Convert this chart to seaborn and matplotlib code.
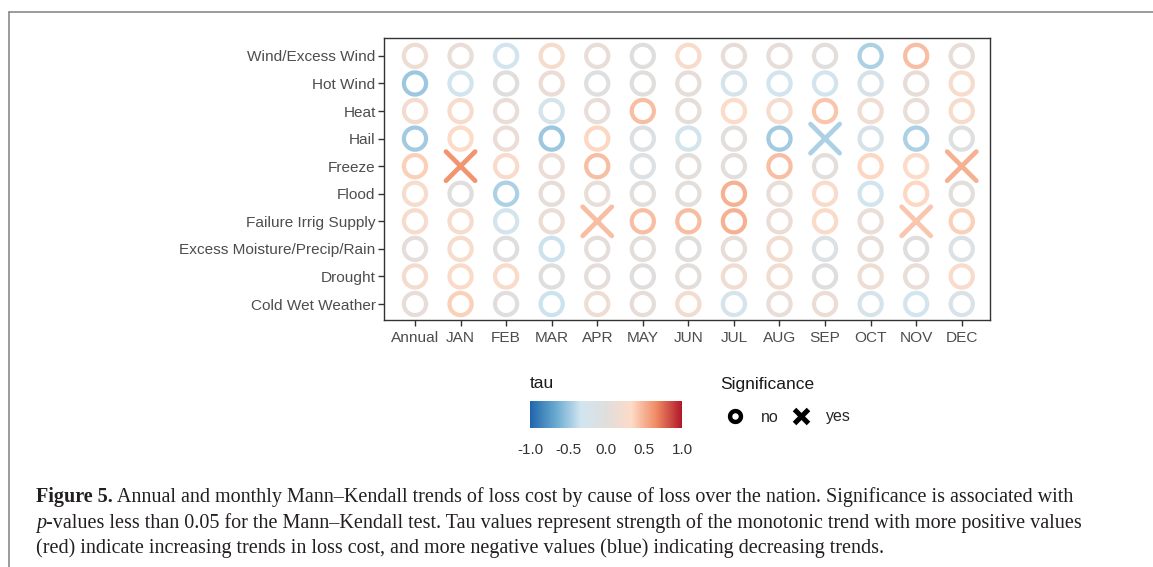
import numpy as np
import pandas as pd
import matplotlib
matplotlib.use("Agg")
import matplotlib.pyplot as plt
import seaborn as sns
from matplotlib.path import Path
from matplotlib.colors import LinearSegmentedColormap, Normalize
from matplotlib.lines import Line2D
import matplotlib.cm as cm

# ---------------- data ----------------
months = ["Annual", "JAN", "FEB", "MAR", "APR", "MAY", "JUN",
          "JUL", "AUG", "SEP", "OCT", "NOV", "DEC"]
causes = ["Wind/Excess Wind", "Hot Wind", "Heat", "Hail", "Freeze", "Flood",
          "Failure Irrig Supply", "Excess Moisture/Precip/Rain", "Drought",
          "Cold Wet Weather"]

tau_wind      = [0.15, 0.10, -0.30, 0.25, 0.10, 0.00, 0.28, 0.08, 0.08, 0.02, -0.45, 0.45, 0.08]
tau_hot_wind  = [-0.50, -0.30, 0.00, 0.12, -0.05, 0.00, 0.08, -0.22, -0.30, -0.30, -0.20, 0.08, 0.25]
tau_heat      = [0.22, 0.28, 0.10, -0.25, 0.10, 0.45, 0.08, 0.32, 0.25, 0.42, 0.18, 0.10, 0.25]
tau_hail      = [-0.48, 0.32, 0.12, -0.50, 0.35, -0.08, -0.28, 0.02, -0.48, -0.45, -0.20, -0.45, -0.05]
tau_freeze    = [0.38, 0.62, 0.28, 0.12, 0.45, -0.12, 0.05, 0.05, 0.45, 0.03, 0.35, 0.32, 0.50]
tau_flood     = [0.25, 0.00, -0.45, 0.08, 0.10, 0.02, 0.05, 0.50, 0.10, 0.28, -0.30, 0.35, 0.03]
tau_irrig     = [0.25, 0.25, -0.28, 0.12, 0.45, 0.45, 0.46, 0.50, 0.12, 0.30, 0.10, 0.42, 0.38]
tau_moisture  = [0.06, 0.25, 0.00, -0.35, 0.06, 0.05, 0.00, 0.08, 0.20, -0.12, 0.08, 0.00, -0.12]
tau_drought   = [0.22, 0.30, 0.28, 0.00, 0.06, 0.00, 0.05, 0.18, 0.20, 0.00, 0.15, 0.10, 0.28]
tau_cold_wet  = [0.08, 0.38, 0.00, -0.35, 0.15, 0.08, 0.22, -0.25, 0.10, 0.12, -0.22, -0.30, -0.18]

significant = [("Freeze", "JAN"), ("Freeze", "DEC"), ("Hail", "SEP"),
               ("Failure Irrig Supply", "APR"), ("Failure Irrig Supply", "NOV")]

tau_rows = [tau_wind, tau_hot_wind, tau_heat, tau_hail, tau_freeze, tau_flood,
            tau_irrig, tau_moisture, tau_drought, tau_cold_wet]

records = []
for cause, row in zip(causes, tau_rows):
    for month, t in zip(months, row):
        records.append({"cause": cause, "month": month, "tau": t,
                        "sig": (cause, month) in significant})
df = pd.DataFrame(records)
df["month"] = pd.Categorical(df["month"], categories=months)
df["cause"] = pd.Categorical(df["cause"], categories=causes)

# ---------------- style ----------------
W, H = 1153, 567
sns.set_theme(style="white")
plt.rcParams["font.family"] = ["Liberation Sans", "DejaVu Sans"]

cmap = LinearSegmentedColormap.from_list(
    "rdbu_grey",
    ["#2166ac", "#67a9cf", "#d1e5f0", "#e0dedd", "#fddbc7", "#ef8a62", "#b2182b"])


def ring_marker(inner):
    th = np.linspace(0, 2 * np.pi, 120)
    outer = np.column_stack([np.cos(th), np.sin(th)])
    inn = np.column_stack([np.cos(th[::-1]), np.sin(th[::-1])]) * inner
    verts = np.vstack([outer, inn])
    codes = ([Path.MOVETO] + [Path.LINETO] * (len(th) - 2) + [Path.CLOSEPOLY]) * 2
    return Path(verts, codes)


ring = ring_marker(0.68)
ring_leg = ring_marker(0.42)

fig = plt.figure(figsize=(W / 100, H / 100), dpi=100)
ax = fig.add_axes([384 / W, 1 - 320 / H, (990 - 384) / W, (320 - 38) / H])

no = df[~df["sig"]]
yes = df[df["sig"]]
sns.scatterplot(data=no, x="month", y="cause", hue="tau", palette=cmap,
                hue_norm=(-1, 1), marker=ring, s=360, edgecolor="none",
                linewidth=0, legend=False, ax=ax)
sns.scatterplot(data=yes, x="month", y="cause", hue="tau", palette=cmap,
                hue_norm=(-1, 1), marker="x", s=440, linewidth=3.4,
                legend=False, ax=ax)
ax.collections[-1].set_capstyle("round")

ax.set_xlim(-0.68, 12.62)
ax.set_ylim(9.58, -0.65)
ax.set_xlabel("")
ax.set_ylabel("")
for sp in ax.spines.values():
    sp.set_visible(True)
    sp.set_color("#333333")
    sp.set_linewidth(1.0)
ax.tick_params(axis="both", length=4, width=1, color="#333333",
               labelcolor="#4d4d4d", labelsize=11.1, bottom=True, left=True)
ax.tick_params(axis="x", pad=4)
ax.tick_params(axis="y", pad=2)
ax.grid(False)

# ---------------- colourbar legend ----------------
cax = fig.add_axes([530 / W, 1 - 428 / H, 152 / W, 27 / H])
sm = cm.ScalarMappable(norm=Normalize(-1, 1), cmap=cmap)
cb = fig.colorbar(sm, cax=cax, orientation="horizontal")
cb.set_ticks([-1, -0.5, 0, 0.5, 1])
cb.set_ticklabels(["-1.0", "-0.5", "0.0", "0.5", "1.0"])
cb.outline.set_visible(False)
cax.tick_params(axis="x", direction="in", color="white", length=5, width=0.8,
                labelsize=11, labelcolor="#333333", top=True, bottom=True, pad=11)
fig.text(530 / W, 1 - 384 / H, "tau", fontsize=12.5, va="center", ha="left",
         color="#1a1a1a")

# ---------------- significance legend ----------------
fig.text(720 / W, 1 - 384 / H, "Significance", fontsize=12.5, va="center",
         ha="left", color="#1a1a1a")
handles = [Line2D([], [], marker=ring_leg, color="black", linestyle="",
                  markersize=11, markeredgewidth=0),
           Line2D([], [], marker="x", color="black", linestyle="",
                  markersize=10, markeredgewidth=3.6)]
leg = fig.legend(handles=handles, labels=["no", "yes"], ncol=2,
                 loc="center left", bbox_to_anchor=(724 / W, 1 - 417 / H),
                 frameon=False, fontsize=11.5, handletextpad=0.9,
                 columnspacing=0.7, handlelength=1.4, borderpad=0,
                 borderaxespad=0)

# ---------------- outer frame ----------------
fig.add_artist(Line2D([9 / W, 1], [1 - 12 / H, 1 - 12 / H],
                      transform=fig.transFigure, color="#8a8a8a", lw=1.2))
fig.add_artist(Line2D([9 / W, 9 / W], [0, 1 - 12 / H],
                      transform=fig.transFigure, color="#8a8a8a", lw=1.2))

# ---------------- caption ----------------
fig.canvas.draw()
renderer = fig.canvas.get_renderer()
serif = ["Liberation Serif", "DejaVu Serif"]
cap_size = 14.5


def seq_text(x_px, y_px, parts):
    x = x_px / W
    for txt, kw in parts:
        t = fig.text(x, 1 - y_px / H, txt, fontsize=cap_size, family=serif,
                     va="baseline", ha="left", color="#231f20", **kw)
        bb = t.get_window_extent(renderer)
        x = bb.x1 / W


seq_text(36, 502, [("Figure 5.", {"weight": "bold"}),
                   (" Annual and monthly Mann\u2013Kendall trends of loss cost by cause of loss over the nation. Significance is associated with", {})])
seq_text(36, 528, [("p", {"style": "italic"}),
                   ("-values less than 0.05 for the Mann\u2013Kendall test. Tau values represent strength of the monotonic trend with more positive values", {})])
seq_text(36, 553, [("(red) indicate increasing trends in loss cost, and more negative values (blue) indicating decreasing trends.", {})])

fig.savefig("out.png", dpi=100)
